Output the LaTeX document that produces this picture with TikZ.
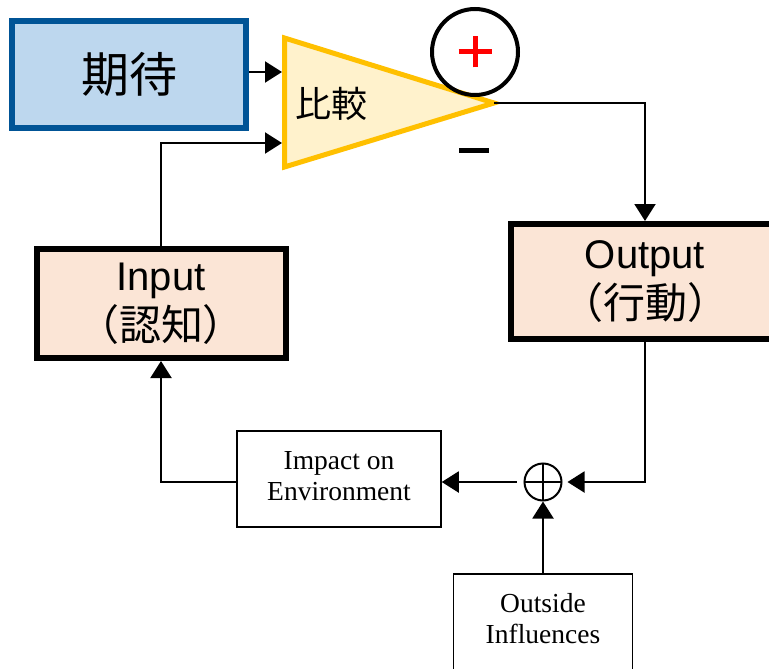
\documentclass[tikz,border=0pt]{standalone}
\usepackage{fontspec}
\setmainfont{Liberation Sans}
\newfontfamily\cjk{Noto Sans CJK JP}
\newfontfamily\tms{Liberation Serif}
\usetikzlibrary{arrows.meta}

\definecolor{kitaiFill}{HTML}{BDD7EE}
\definecolor{kitaiLine}{RGB}{0,84,150}
\definecolor{cmpFill}{HTML}{FFF2CC}
\definecolor{cmpLine}{HTML}{FFC000}
\definecolor{ioFill}{HTML}{FBE5D6}

\newcommand\jpline[1]{{\cjk\fontsize{42}{50}\selectfont #1}}
% two lines of serif text, set a little above the middle of their box
\newcommand\twolines[2]{\raisebox{4pt}{\begin{tabular}{@{}c@{}}#1\\#2\end{tabular}}}

\begin{document}
\begin{tikzpicture}[x=1pt,y=-1pt,
  conn/.style={line width=2pt, -{Triangle[length=17pt,width=21pt]}},
  kitaibox/.style={draw=kitaiLine, line width=6pt, fill=kitaiFill,
    minimum width=234pt, minimum height=107pt, inner sep=0pt,
    font=\cjk\fontsize{48}{52}\selectfont},
  iobox/.style={draw=black, line width=6pt, fill=ioFill, align=center,
    inner sep=0pt, font=\fontsize{40}{50}\selectfont},
  thinbox/.style={draw=black, line width=1.5pt, fill=white,
    inner sep=0pt, font=\tms\fontsize{27.5}{30.5}\selectfont}
]
\clip (0,0) rectangle (769,669);
\fill[white] (0,0) rectangle (769,669);

% comparator triangle
\coordinate (tA) at (284.5,38);
\coordinate (tB) at (284.5,167);
\coordinate (tC) at (494,103);
\filldraw[fill=cmpFill, draw=cmpLine, line width=5pt] (tA) -- (tC) -- (tB) -- cycle;
\node (cmp) at (331,104) {\cjk\fontsize{36}{40}\selectfont 比較};
\coordinate (in1) at (282,72);
\coordinate (in2) at (282,143);

% plus / minus signs of the comparator
\node[draw, circle, line width=4pt, minimum size=86pt, inner sep=0pt,
  path picture={\draw[red, line width=5pt]
    ([xshift=-16.5pt]path picture bounding box.center) -- ([xshift=16.5pt]path picture bounding box.center)
    ([yshift=-15.5pt]path picture bounding box.center) -- ([yshift=15.5pt]path picture bounding box.center);}]
  (plus) at (475,52) {};
\node[fill=black, minimum width=30pt, minimum height=5pt, inner sep=0pt] (minus) at (474,150) {};

% blocks
\node[kitaibox] (kitai) at (129,74.5) {期待};
\node[iobox, minimum width=249pt, minimum height=109pt] (input) at (161,303.5) {Input\\\jpline{（認知）}};
\node[iobox, minimum width=268pt, minimum height=115pt] (output) at (645,281.5) {Output\\\jpline{（行動）}};
\node[thinbox, minimum width=204pt, minimum height=96pt] (impact) at (339,479) {\twolines{Impact on}{Environment}};
\node[thinbox, minimum width=179pt, minimum height=96pt] (outside) at (543,622) {\twolines{Outside}{Influences}};

% summing junction
\node[draw, circle, line width=2pt, minimum size=37pt, inner sep=0pt,
  path picture={\draw[line width=2pt]
    (path picture bounding box.north) -- (path picture bounding box.south)
    (path picture bounding box.west) -- (path picture bounding box.east);}]
  (sum) at (543,482) {};

% connectors
\draw[conn] (kitai.east |- in1) -- (in1);
\draw[conn] (input.north) |- (in2);
\draw[conn] (tC) -| (output.north);
\draw[conn, shorten >=5pt] (output.south) |- (sum.east);
\draw[conn, shorten <=7pt] (sum.west) -- (sum.west -| impact.east);
\draw[conn] (impact.west |- sum) -| (input.south);
\draw[conn] (outside.north) -- (sum.south);
\end{tikzpicture}
\end{document}
